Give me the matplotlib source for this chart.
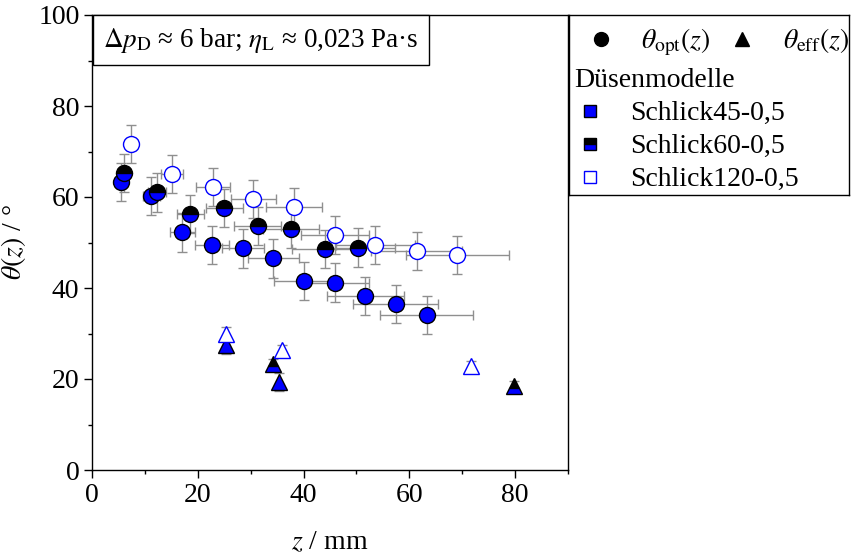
import matplotlib
matplotlib.use('Agg')
import matplotlib.pyplot as plt
from matplotlib.lines import Line2D
from matplotlib.ticker import MultipleLocator

plt.rcParams['font.family'] = ['Liberation Serif', 'DejaVu Serif']
plt.rcParams['mathtext.fontset'] = 'stix'

# ---------------- data ----------------
# theta_opt (circles)
z45 = [5.4, 11.2, 17.1, 22.7, 28.5, 34.3, 40.1, 45.9, 51.7, 57.4, 63.3]
opt45 = [63.3, 60.3, 52.2, 49.5, 48.7, 46.5, 41.5, 41.2, 38.3, 36.5, 34.1]
zerr45 = [0.8, 1.6, 2.4, 3.2, 4.0, 4.8, 5.6, 6.4, 7.2, 8.0, 8.8]
opterr45 = [4.2, 4.2, 4.2, 4.2, 4.2, 4.2, 4.2, 4.2, 4.2, 4.2, 4.2]

z60 = [6.0, 12.3, 18.6, 25.0, 31.3, 37.7, 44.0, 50.2]
opt60 = [65.3, 61.0, 56.3, 57.6, 53.7, 53.0, 48.6, 48.9]
zerr60 = [0.8, 1.7, 2.6, 3.5, 4.4, 5.3, 6.2, 7.0]
opterr60 = [4.2, 4.2, 4.2, 4.2, 4.2, 4.2, 4.2, 4.2]

z120 = [7.4, 15.1, 22.9, 30.5, 38.2, 45.9, 53.6, 61.4, 69.1]
opt120 = [71.6, 65.0, 62.2, 59.6, 57.7, 51.6, 49.5, 48.1, 47.2]
zerr120 = [1.0, 2.1, 3.2, 4.3, 5.3, 6.4, 7.5, 8.6, 9.7]
opterr120 = [4.2, 4.2, 4.2, 4.2, 4.2, 4.2, 4.2, 4.2, 4.2]

# theta_eff (triangles)
ze45 = [25.3, 35.3]
eff45 = [27.5, 19.4]
efferr45 = [2.0, 2.0]

ze60 = [34.3, 79.7]
eff60 = [23.4, 18.5]
efferr60 = [1.0, 1.0]

ze120 = [25.4, 36.0, 71.7]
eff120 = [29.9, 26.4, 22.9]
efferr120 = [1.5, 1.0, 1.0]

xticks = [0, 20, 40, 60, 80]
yticks = [0, 20, 40, 60, 80, 100]
labels = ['Schlick45-0,5', 'Schlick60-0,5', 'Schlick120-0,5']

# ---------------- figure ----------------
W, H = 852, 553
fig = plt.figure(figsize=(W / 100, H / 100), dpi=100)
ax = fig.add_axes([92 / W, 1 - 470 / H, (568 - 92) / W, (470 - 15) / H])

FS = 20
ecol = '#8f8f8f'
ekw = dict(fmt='none', ecolor=ecol, elinewidth=1.0, capsize=3.5, capthick=1.0, zorder=2)

# error bars
ax.errorbar(z45, opt45, yerr=opterr45, xerr=zerr45, **ekw)
ax.errorbar(z60, opt60, yerr=opterr60, xerr=zerr60, **ekw)
ax.errorbar(z120, opt120, yerr=opterr120, xerr=zerr120, **ekw)
ax.errorbar(ze45, eff45, yerr=efferr45, **ekw)
ax.errorbar(ze60, eff60, yerr=efferr60, **ekw)
ax.errorbar(ze120, eff120, yerr=efferr120, **ekw)

ms_c = 11.5
ms_t = 11.5
# markers
st45 = dict(ls='none', mfc='blue', mec='black', mew=1.0, zorder=3)
st60 = dict(ls='none', mfc='black', mfcalt='blue', fillstyle='top', mec='black', mew=1.0, zorder=3)
st120 = dict(ls='none', mfc='white', mec='blue', mew=1.0, zorder=3)

ax.plot(z45, opt45, marker='o', ms=ms_c, **st45)
ax.plot(z60, opt60, marker='o', ms=ms_c, **st60)
ax.plot(z120, opt120, marker='o', ms=ms_c, **st120)
ax.plot(ze45, eff45, marker='^', ms=ms_t, **st45)
ax.plot(ze60, eff60, marker='^', ms=ms_t, **st60)
ax.plot(ze120, eff120, marker='^', ms=ms_t, **st120)

ax.set_xlim(0, 90)
ax.set_ylim(0, 100)
ax.set_xticks(xticks)
ax.set_yticks(yticks)
ax.xaxis.set_minor_locator(MultipleLocator(10))
ax.yaxis.set_minor_locator(MultipleLocator(10))
ax.tick_params(which='both', direction='out', top=False, right=False,
               labelsize=FS, width=1.0, color='black')
ax.tick_params(which='major', length=6, pad=3)
ax.tick_params(which='minor', length=3)
for s in ax.spines.values():
    s.set_linewidth(1.0)
    s.set_color('black')

ax.set_xlabel(r'$z$ / mm', fontsize=FS, labelpad=16)
ax.set_ylabel(r'$\theta(z)$ / °', fontsize=FS, labelpad=7)

# parameter box
AFS = 19.5
APAD = 0.38
ax.annotate(r'$\Delta p_{\mathrm{D}}$ ≈ 6 bar; $\eta_{\mathrm{L}}$ ≈ 0,023 Pa·s',
            xy=(0, 1), xycoords='axes fraction',
            xytext=(APAD * AFS + 0.7, -(APAD * AFS + 0.2)),
            textcoords='offset points', ha='left', va='top', fontsize=AFS,
            bbox=dict(boxstyle='square,pad=%.2f' % APAD, fc='white', ec='black', lw=1.0),
            zorder=5)

# ---------------- legend ----------------
lax = fig.add_axes([569 / W, 1 - 195 / H, (849 - 569) / W, (195 - 15) / H])
lax.set_xticks([])
lax.set_yticks([])
for s in lax.spines.values():
    s.set_linewidth(1.0)
    s.set_color('black')

h_c = Line2D([], [], ls='none', marker='o', ms=10, mfc='black', mec='black')
h_t = Line2D([], [], ls='none', marker='^', ms=10, mfc='black', mec='black')
leg1 = lax.legend([h_c, h_t], [r'$\theta_{\mathrm{opt}}(z)$', r'$\theta_{\mathrm{eff}}(z)$'],
                  ncol=2, loc='upper left', bbox_to_anchor=(0.0, 1.03),
                  frameon=False, fontsize=FS, handlelength=1.1, handletextpad=0.9,
                  columnspacing=0.6, borderaxespad=0.2)
lax.add_artist(leg1)

sq = dict(ls='none', marker='s', ms=8, mew=1.0)
h45 = Line2D([], [], mfc='blue', mec='black', **sq)
h60 = Line2D([], [], mfc='black', mfcalt='blue', fillstyle='top', mec='black', **sq)
h120 = Line2D([], [], mfc='white', mec='blue', **sq)
leg2 = lax.legend([h45, h60, h120], labels, title='Düsenmodelle', title_fontsize=FS,
                  loc='upper left', bbox_to_anchor=(-0.02, 0.765), frameon=False,
                  fontsize=FS, alignment='left', handlelength=1.1, handletextpad=0.9,
                  labelspacing=0.27, borderaxespad=0.0)

fig.savefig('out.png', dpi=100)
